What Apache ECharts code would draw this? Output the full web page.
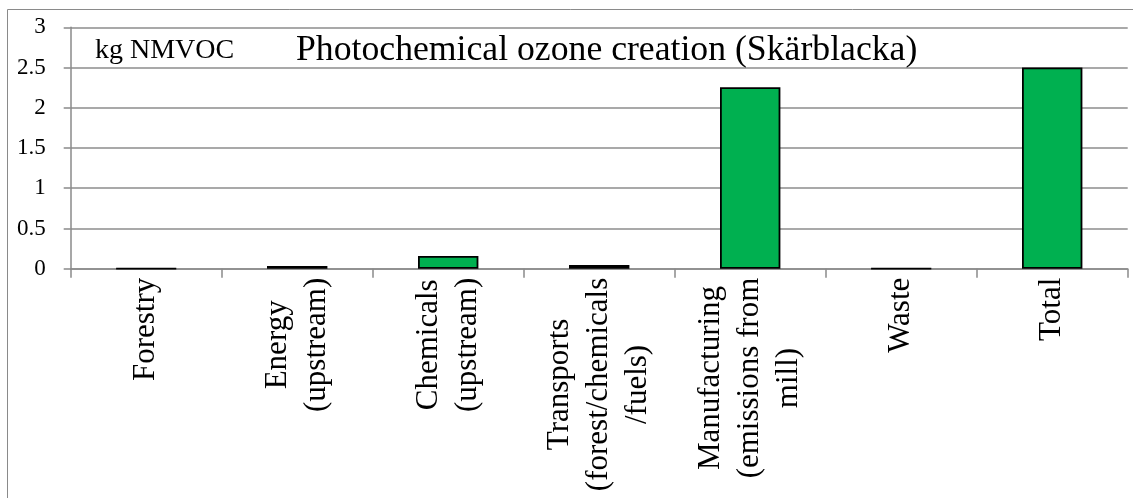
<!DOCTYPE html>
<html>
<head>
<meta charset="utf-8">
<script src="https://cdn.jsdelivr.net/npm/echarts@6/dist/echarts.min.js"></script>
<style>
html,body{margin:0;padding:0;background:#fff;}
#chart{width:1133px;height:498px;}
</style>
</head>
<body>
<div id="chart"></div>
<script>
const categories = [
  'Forestry',
  'Energy\n(upstream)',
  'Chemicals\n(upstream)',
  'Transports\n(forest/chemicals\n/fuels)',
  'Manufacturing\n(emissions from\nmill)',
  'Waste',
  'Total'
];
const values = [0.003, 0.035, 0.158, 0.045, 2.255, 0.002, 2.5];
const yTicks = { min: 0, max: 3, interval: 0.5 };
const titleText = 'Photochemical ozone creation (Skärblacka)';
const unitText = 'kg NMVOC';

const FONT = '"Liberation Serif", "Times New Roman", serif';
const chart = echarts.init(document.getElementById('chart'), null, { renderer: 'canvas' });
chart.setOption({
  animation: false,
  backgroundColor: '#fff',
  graphic: [{
    type: 'rect',
    shape: { x: 7.5, y: 9.5, width: 1300, height: 700 },
    style: { fill: 'none', stroke: '#8a8a8a', lineWidth: 1 },
    silent: true, z: -10
  }],
  title: [{
    text: titleText,
    left: 296, top: 32.5, padding: 0,
    textStyle: { fontFamily: FONT, fontSize: 35.7, fontWeight: 'normal', color: '#000' }
  }, {
    text: unitText,
    left: 95, top: 37, padding: 0,
    textStyle: { fontFamily: FONT, fontSize: 28, fontWeight: 'normal', color: '#000' }
  }],
  grid: { left: 70.7, right: 5.3, top: 27.3, bottom: 229.3, containLabel: false },
  xAxis: {
    type: 'category',
    data: categories,
    axisLine: { show: true, lineStyle: { color: '#8a8a8a', width: 1.5 } },
    axisTick: { show: true, length: 9, lineStyle: { color: '#8a8a8a', width: 1.5 } },
    axisLabel: {
      interval: 0,
      rotate: 90,
      margin: 9,
      color: '#000',
      fontFamily: FONT,
      fontSize: 31,
      lineHeight: 39,
      formatter: function (v) {
        return v.split('\n').map(function (l) { return '{c|' + l + '}'; }).join('\n');
      },
      rich: { c: { align: 'center', fontFamily: FONT, fontSize: 31, lineHeight: 39, color: '#000' } }
    },
    splitLine: { show: false }
  },
  yAxis: {
    type: 'value',
    min: yTicks.min, max: yTicks.max, interval: yTicks.interval,
    axisLine: { show: true, lineStyle: { color: '#8a8a8a', width: 1.5 } },
    axisTick: { show: true, length: 7, lineStyle: { color: '#8a8a8a', width: 1.5 } },
    axisLabel: { margin: 25, color: '#000', fontFamily: FONT, fontSize: 23 },
    splitLine: { show: true, lineStyle: { color: '#8c8c8c', width: 1.5 } }
  },
  series: [{
    type: 'bar',
    data: values,
    barWidth: '40%',
    itemStyle: { color: '#00B050', borderColor: '#000', borderWidth: 1.8 }
  }]
});
</script>
</body>
</html>
